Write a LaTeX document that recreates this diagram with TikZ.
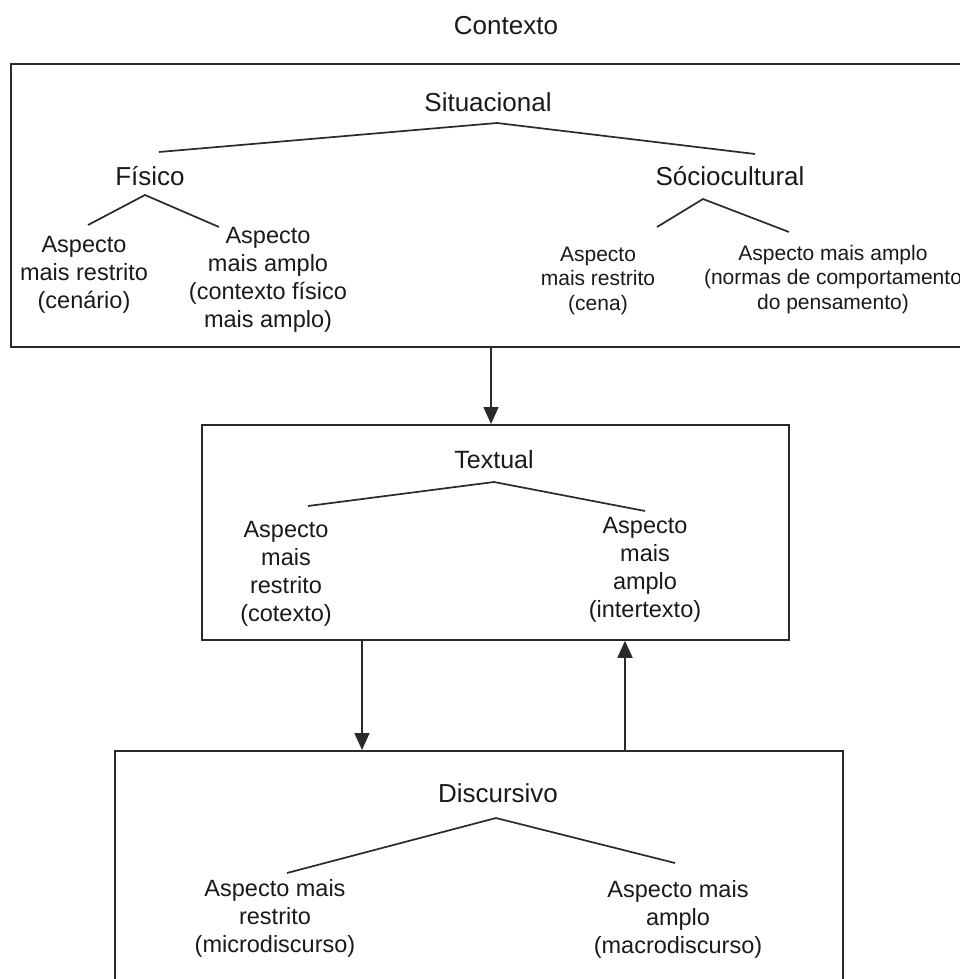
\documentclass[tikz,border=0pt]{standalone}
\usepackage{fontspec}
\setmainfont{Liberation Sans}
\usetikzlibrary{arrows.meta}
\definecolor{txt}{HTML}{1A1A1A}
\definecolor{ln}{HTML}{2A2A2A}
\begin{document}
\begin{tikzpicture}[x=1pt,y=-1pt,
  every node/.style={inner sep=0pt,text=txt},
  boxnode/.style={draw=ln,line width=1.8pt,inner sep=0pt,anchor=north west},
  hd/.style={font=\fontsize{26}{30}\selectfont,anchor=base},
  hdm/.style={font=\fontsize{25}{30}\selectfont,anchor=base},
  leaf/.style={font=\fontsize{23.5}{28}\selectfont,align=center,anchor=base},
  leafs/.style={font=\fontsize{21}{24.5}\selectfont,align=center,anchor=base},
  tree/.style={draw=ln,line width=1.7pt},
  arr/.style={draw=ln,line width=1.6pt,-{Triangle[length=17pt,width=15pt]}}]
\useasboundingbox (0,0) rectangle (959,979);
\fill[white] (0,0) rectangle (959,979);

% boxes
\node[boxnode,minimum width=965pt,minimum height=283pt] (top) at (10,63) {};
\node[boxnode,minimum width=587pt,minimum height=215pt] (mid) at (201,424) {};
\node[boxnode,minimum width=728pt,minimum height=260pt] (bot) at (114,750) {};

% title
\node[hd] (ctx) at (506,35) {Contexto};

% situacional (multi-line nodes: base = baseline of last line)
\node[hd] (sit) at (488,112) {Situacional};
\node[hd] (fis) at (150,185) {Físico};
\node[hd] (soc) at (730,185) {Sóciocultural};
\node[leaf] (fisA) at (84,308) {Aspecto\\mais restrito\\(cenário)};
\node[leaf] (fisB) at (268,327) {Aspecto\\mais amplo\\(contexto físico\\mais amplo)};
\node[leafs] (socA) at (598,310) {Aspecto\\mais restrito\\(cena)};
\node[leafs] (socB) at (833,309) {Aspecto mais amplo\\(normas de comportamento\\do pensamento)};

\coordinate (sitP) at (497,123);
\coordinate (sitL) at (159,152);
\coordinate (sitR) at (755,154);
\coordinate (fisP) at (145,195);
\coordinate (fisL) at (88,225);
\coordinate (fisR) at (219,227);
\coordinate (socP) at (703,199);
\coordinate (socL) at (657,227);
\coordinate (socR) at (789,232);
\draw[tree] (sitL) -- (sitP) -- (sitR);
\draw[tree] (fisL) -- (fisP) -- (fisR);
\draw[tree] (socL) -- (socP) -- (socR);

% textual
\node[hdm] (tex) at (494,468) {Textual};
\node[leaf] (texA) at (286,621) {Aspecto\\mais\\restrito\\(cotexto)};
\node[leaf] (texB) at (645,617) {Aspecto\\mais\\amplo\\(intertexto)};
\coordinate (texP) at (494,482);
\coordinate (texL) at (308,506);
\coordinate (texR) at (645,511);
\draw[tree] (texL) -- (texP) -- (texR);

% discursivo
\node[hd] (dis) at (498,802) {Discursivo};
\node[leaf] (disA) at (275,952) {Aspecto mais\\restrito\\(microdiscurso)};
\node[leaf] (disB) at (678,953) {Aspecto mais\\amplo\\(macrodiscurso)};
\coordinate (disP) at (496,818);
\coordinate (disL) at (287,873);
\coordinate (disR) at (675,863);
\draw[tree] (disL) -- (disP) -- (disR);

% arrows
\coordinate (a1) at (491,0);
\coordinate (a2) at (362,0);
\coordinate (a3) at (625,0);
\draw[arr] (top.south -| a1) -- (mid.north -| a1);
\draw[arr] (mid.south -| a2) -- (bot.north -| a2);
\draw[arr] (bot.north -| a3) -- (mid.south -| a3);
\end{tikzpicture}
\end{document}
